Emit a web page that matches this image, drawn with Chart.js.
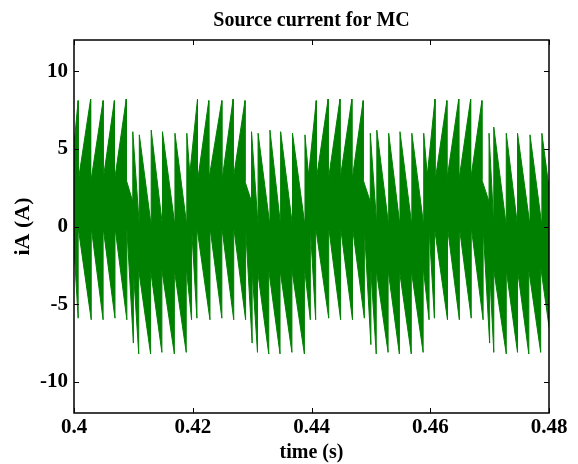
<!DOCTYPE html>
<html>
<head>
<meta charset="utf-8">
<script src="https://cdn.jsdelivr.net/npm/chart.js@4.4.1/dist/chart.umd.min.js"></script>
<style>
html,body{margin:0;padding:0;background:#fff;}
#c{display:block;}
</style>
</head>
<body>
<canvas id="c" width="578" height="464"></canvas>
<script>
// Tick values and labels
const xTicks = [0.4, 0.42, 0.44, 0.46, 0.48];
const xTickLabels = ['0.4', '0.42', '0.44', '0.46', '0.48'];
const yTicks = [-10, -5, 0, 5, 10];
const yTickLabels = ['-10', '-5', '0', '5', '10'];

// Upper envelope of the switched current: at time upT the trace arrives at upIn and leaves at upOut (A)
const upT = [0.3995, 0.4007, 0.4028, 0.4049, 0.4068, 0.4088, 0.4099, 0.4110, 0.4130, 0.4149, 0.4170, 0.4190, 0.4195,
  0.4208, 0.4227, 0.4249, 0.4268, 0.4288, 0.4299, 0.4310, 0.4330, 0.4348, 0.4368, 0.4389, 0.4395,
  0.4408, 0.4428, 0.4448, 0.4468, 0.4487, 0.4499, 0.4510, 0.4530, 0.4549, 0.4569, 0.4589, 0.4595,
  0.4608, 0.4628, 0.4648, 0.4668, 0.4687, 0.4699, 0.4707, 0.4728, 0.4747, 0.4768, 0.4788, 0.4805];
const upIn = [3.2, 8.1, 8.2, 8.1, 8.1, 8.2, 1.6, 0.05, 0.05, 0.05, 0.05, 0.05, 3.4,
  8.2, 8.1, 8.1, 8.2, 8.1, 1.6, 0.05, 0.05, 0.05, 0.05, 0.05, 3.3,
  8.1, 8.2, 8.2, 8.2, 8.1, 1.6, 0.05, 0.05, 0.05, 0.05, 0.05, 3.3,
  8.2, 8.1, 8.2, 8.2, 8.1, 1.6, 0.05, 0.05, 0.05, 0.05, 0.05, 1.0];
const upOut = [3.2, 2.9, 2.8, 3.0, 2.9, 3.0, 6.1, 5.9, 6.2, 6.1, 6.0, 6.0, 3.4,
  2.9, 3.0, 2.9, 3.0, 2.9, 6.1, 6.0, 6.2, 6.1, 6.0, 5.9, 3.3,
  3.0, 2.9, 3.0, 2.9, 3.0, 6.0, 6.2, 6.0, 6.1, 6.0, 6.0, 3.3,
  2.9, 3.0, 2.9, 3.0, 3.0, 6.0, 6.4, 6.0, 6.0, 5.9, 6.0, 1.0];

// Lower envelope: at time loT the trace arrives at loIn and leaves at loOut (A)
const loT = [0.3989, 0.3998, 0.4007, 0.4029, 0.4049, 0.4069, 0.4089, 0.4100, 0.4109, 0.4129, 0.4148, 0.4169, 0.4189,
  0.4198, 0.4207, 0.4229, 0.4249, 0.4269, 0.4289, 0.4300, 0.4309, 0.4328, 0.4347, 0.4367, 0.4388,
  0.4398, 0.4407, 0.4429, 0.4449, 0.4469, 0.4489, 0.4500, 0.4509, 0.4529, 0.4548, 0.4568, 0.4588,
  0.4598, 0.4607, 0.4629, 0.4649, 0.4669, 0.4689, 0.4700, 0.4707, 0.4728, 0.4747, 0.4766, 0.4786, 0.4805];
const loIn = [-2.6, -6.0, -5.9, -6.0, -6.0, -5.9, -6.0, -7.5, -8.2, -8.2, -8.1, -8.2, -8.1,
  -6.0, -5.9, -6.0, -5.9, -6.0, -6.0, -7.5, -8.1, -8.2, -8.2, -8.1, -8.2,
  -6.0, -6.0, -5.9, -6.0, -6.0, -5.9, -7.6, -8.2, -8.1, -8.2, -8.2, -8.1,
  -6.0, -5.9, -6.0, -6.0, -5.9, -6.0, -7.5, -8.1, -8.2, -8.1, -8.2, -8.1, -7.8];
const loOut = [-2.6, -0.05, -0.05, -0.05, -0.05, -0.05, -0.05, -2.8, -2.8, -2.8, -2.8, -2.8, -2.6,
  -0.05, -0.05, -0.05, -0.05, -0.05, -0.05, -2.8, -2.8, -2.8, -2.8, -2.8, -2.6,
  -0.05, -0.05, -0.05, -0.05, -0.05, -0.05, -2.8, -2.8, -2.8, -2.8, -2.8, -2.6,
  -0.05, -0.05, -0.05, -0.05, -0.05, -0.05, -2.8, -2.8, -2.8, -2.8, -2.8, -2.6, -7.8];

// Envelope polylines
function envelope(T, vin, vout) {
  const pts = [];
  for (let i = 0; i < T.length; i++) {
    pts.push({x: T[i], y: vin[i]});
    if (vout[i] !== vin[i]) pts.push({x: T[i], y: vout[i]});
  }
  return pts;
}

const GREEN = '#008000';
const FONT = "'Liberation Serif', 'Times New Roman', serif";

const boxTicks = {
  id: 'boxTicks',
  afterDraw(chart) {
    const {ctx, chartArea: a, scales} = chart;
    ctx.save();
    ctx.strokeStyle = '#000';
    ctx.lineWidth = 1.5;
    ctx.strokeRect(a.left, a.top, a.right - a.left, a.bottom - a.top);
    ctx.lineWidth = 1;
    const L = 5;
    ctx.beginPath();
    xTicks.forEach(v => {
      const px = Math.round(scales.x.getPixelForValue(v)) + 0.5;
      ctx.moveTo(px, a.bottom); ctx.lineTo(px, a.bottom - L);
      ctx.moveTo(px, a.top); ctx.lineTo(px, a.top + L);
    });
    yTicks.forEach(v => {
      const py = Math.round(scales.y.getPixelForValue(v)) + 0.5;
      ctx.moveTo(a.left, py); ctx.lineTo(a.left + L, py);
      ctx.moveTo(a.right, py); ctx.lineTo(a.right - L, py);
    });
    ctx.stroke();
    ctx.restore();
  }
};

const common = {
  borderColor: GREEN,
  backgroundColor: GREEN,
  borderWidth: 1,
  pointRadius: 0,
  tension: 0
};

new Chart(document.getElementById('c'), {
  type: 'line',
  data: {
    datasets: [
      Object.assign({label: 'upper', data: envelope(upT, upIn, upOut), fill: {value: -0.25}}, common),
      Object.assign({label: 'lower', data: envelope(loT, loIn, loOut), fill: {value: 0.25}}, common)
    ]
  },
  options: {
    responsive: false,
    animation: false,
    devicePixelRatio: 1,
    layout: {padding: {left: 0, right: 29, top: 0, bottom: 0}},
    plugins: {
      legend: {display: false},
      tooltip: {enabled: false},
      title: {display: false}
    },
    scales: {
      x: {
        type: 'linear',
        min: 0.4,
        max: 0.48,
        afterBuildTicks: s => { s.ticks = xTicks.map(v => ({value: v})); },
        afterFit: s => { s.height = 51; },
        grid: {display: false, drawTicks: false},
        border: {display: false},
        ticks: {
          autoSkip: false,
          maxRotation: 0,
          padding: 2,
          color: '#000',
          font: {family: FONT, size: 21, weight: 'bold'},
          callback: (v, i) => xTickLabels[i]
        },
        title: {
          display: true,
          text: 'time (s)',
          color: '#000',
          font: {family: FONT, size: 20, weight: 'bold', lineHeight: 1},
          padding: {top: 0, bottom: 1}
        }
      },
      xTop: {
        type: 'linear',
        position: 'top',
        min: 0.4,
        max: 0.48,
        afterBuildTicks: s => { s.ticks = []; },
        afterFit: s => { s.height = 40; },
        grid: {display: false, drawTicks: false},
        border: {display: false},
        ticks: {display: false},
        title: {
          display: true,
          text: 'Source current for MC',
          color: '#000',
          font: {family: FONT, size: 20, weight: 'bold', lineHeight: 1.2},
          padding: {top: 9, bottom: 0}
        }
      },
      y: {
        type: 'linear',
        min: -12,
        max: 12,
        afterBuildTicks: s => { s.ticks = yTicks.map(v => ({value: v})); },
        afterFit: s => { s.width = 74; },
        grid: {display: false, drawTicks: false},
        border: {display: false},
        ticks: {
          padding: 6,
          color: '#000',
          font: {family: FONT, size: 21, weight: 'bold'},
          callback: (v, i) => yTickLabels[i]
        },
        title: {
          display: true,
          text: 'iA (A)',
          color: '#000',
          font: {family: FONT, size: 22, weight: 'bold', lineHeight: 1},
          padding: {top: 12, bottom: 0}
        }
      }
    }
  },
  plugins: [boxTicks]
});
</script>
</body>
</html>
